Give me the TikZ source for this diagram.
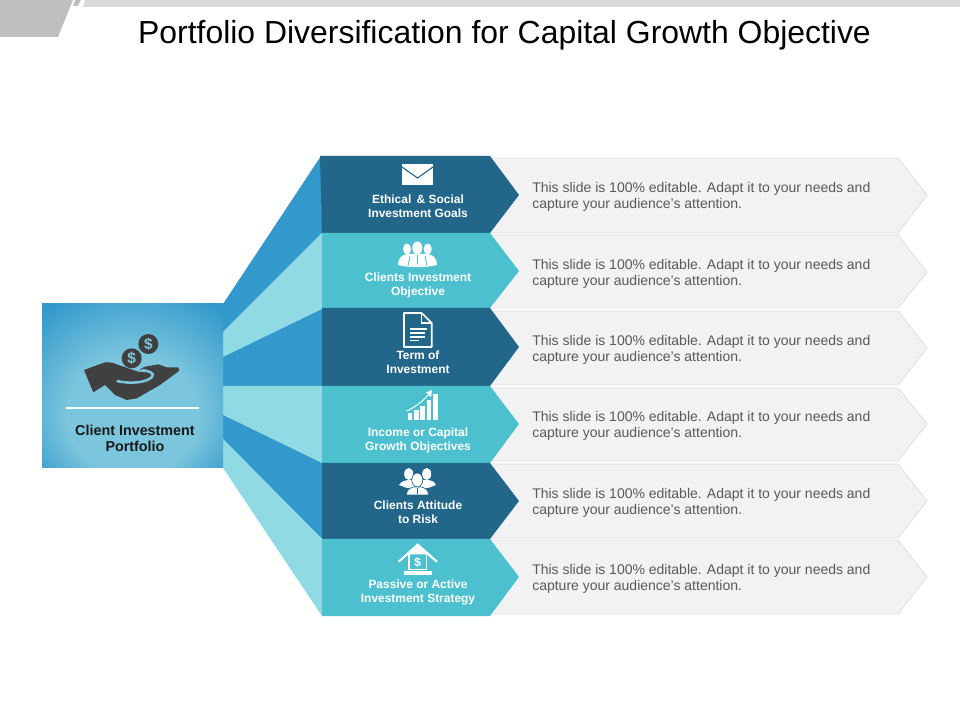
\documentclass[tikz,border=0pt]{standalone}
\usepackage{fontspec}
\setmainfont{Liberation Sans}
\definecolor{darkband}{HTML}{22678A}
\definecolor{tealband}{HTML}{4DC0D0}
\definecolor{fanblue}{HTML}{3399CC}
\definecolor{fanlight}{HTML}{8FDAE3}
\definecolor{panelgrey}{HTML}{F2F2F2}
\definecolor{panelline}{HTML}{DFDFDF}
\definecolor{handgrey}{HTML}{404040}
\definecolor{blockmid}{HTML}{7CC6DD}
\pgfdeclareradialshading{blockglow}{\pgfpoint{0bp}{-14bp}}{%
  color(0bp)=(blockmid);color(18bp)=(blockmid);color(36bp)=(fanblue);color(50bp)=(fanblue)}

\begin{document}
\begin{tikzpicture}[x=0.025cm, y=-0.025cm,
    panel/.style={fill=panelgrey, draw=panelline, line width=0.6pt},
    label/.style={font=\fontsize{8.5}{10}\selectfont\bfseries, text=white, align=center, inner sep=0pt},
    desc/.style={font=\fontsize{9.95}{11.4}\selectfont, text=black!65, align=left, anchor=west, inner sep=0pt},
    coin/.style={font=\fontsize{11}{12}\selectfont\bfseries, text=blockmid, inner sep=0pt}]
    \useasboundingbox (0, 0) rectangle (960, 720);

    % draw top strip
    \fill[black!25] (0, 0) -- (73, 0) -- (58, 37) -- (0, 37) -- cycle;
    \fill[black!25] (75, 0) -- (81, 0) -- (78, 6) -- (73, 6) -- cycle;
    \fill[black!15] (85, 0) -- (960, 0) -- (960, 7) -- (83, 7) -- cycle;
    \node[font=\fontsize{22.7}{26}\selectfont, inner sep=0pt] (title) at (504.5, 35) {Portfolio Diversification for Capital Growth Objective};

    % draw text panels
    \filldraw[panel] (490, 158) -- (898, 158) -- (927, 195) -- (898, 233) -- (490, 233) -- cycle;
    \filldraw[panel] (490, 235) -- (898, 235) -- (927, 272) -- (898, 308) -- (490, 308) -- cycle;
    \filldraw[panel] (490, 311) -- (898, 311) -- (927, 348) -- (898, 385) -- (490, 385) -- cycle;
    \filldraw[panel] (490, 388) -- (898, 388) -- (927, 424) -- (898, 461) -- (490, 461) -- cycle;
    \filldraw[panel] (490, 464) -- (898, 464) -- (927, 501) -- (898, 538) -- (490, 538) -- cycle;
    \filldraw[panel] (490, 540) -- (898, 540) -- (927, 577) -- (898, 614) -- (490, 614) -- cycle;

    % draw fan
    \fill[fanblue] (223, 304) -- (321, 156) -- (322, 233) -- (223, 332) -- cycle;
    \fill[fanlight] (223, 332) -- (322, 233) -- (322, 309) -- (223, 357) -- cycle;
    \fill[fanblue] (223, 357) -- (322, 309) -- (322, 386) -- (223, 386) -- cycle;
    \fill[fanlight] (223, 386) -- (322, 386) -- (322, 463) -- (223, 415) -- cycle;
    \fill[fanblue] (223, 415) -- (322, 463) -- (322, 539) -- (223, 439) -- cycle;
    \fill[fanlight] (223, 439) -- (322, 539) -- (322, 616) -- (223, 468) -- cycle;

    % draw chevrons
    \fill[darkband] (320, 156) -- (490, 156) -- (519, 195) -- (490, 233) -- (322, 233) -- cycle;
    \fill[tealband] (322, 233) -- (490, 233) -- (519, 271) -- (490, 308) -- (322, 308) -- cycle;
    \fill[darkband] (322, 308) -- (490, 308) -- (519, 347) -- (490, 386) -- (322, 386) -- cycle;
    \fill[tealband] (322, 386) -- (490, 386) -- (519, 424) -- (490, 463) -- (322, 463) -- cycle;
    \fill[darkband] (322, 463) -- (490, 463) -- (519, 501) -- (490, 539) -- (322, 539) -- cycle;
    \fill[tealband] (322, 539) -- (490, 539) -- (519, 577) -- (490, 616) -- (322, 616) -- cycle;

    % draw client block
    \shade[shading=blockglow] (42, 304) rectangle (223, 468);
    \draw[white, line width=1.1pt] (66, 408) -- (199, 408);
    \node[font=\fontsize{10.2}{11.3}\selectfont\bfseries, text=black!90, align=center, inner sep=0pt] (client) at (135, 438) {Client Investment\\Portfolio};

    % draw hand and coins
    \fill[handgrey] (84, 370) -- (105, 362.3) .. controls (112, 362) and (116, 364) .. (118.3, 365)
        -- (138.3, 371.7) -- (147, 372.5) -- (140, 369.3) -- (145, 366.7) -- (158.3, 364.3) -- (166.7, 367.3)
        -- (178.3, 367.3) -- (179.3, 370.7) -- (160, 385) -- (136.7, 398.3) -- (126.7, 400) -- (115, 395)
        -- (105, 385) -- (93.3, 392.3) -- cycle;
    \draw[blockmid, line width=1.8pt] (116.7, 381) .. controls (130, 384) and (146, 383) .. (152, 377)
        .. controls (155, 373) and (150, 371.5) .. (142, 370);
    \fill[handgrey] (131.7, 358.3) circle (10);
    \fill[handgrey] (148.3, 344) circle (10);
    \node[coin] (coinlow) at (131.7, 358.3) {\$};
    \node[coin] (coinhigh) at (148.3, 344) {\$};

    % draw envelope
    \fill[white] (402, 164) rectangle (433, 185);
    \draw[darkband, line width=0.8pt] (402, 167) -- (417.5, 178) -- (433, 167);

    % draw team icon
    \fill[white] (407, 249) ellipse (4 and 5.5);
    \fill[white] (427.7, 249) ellipse (4 and 5.5);
    \fill[white] (417.3, 248) ellipse (5 and 6.5);
    \fill[white] (398, 265) .. controls (398, 258) and (402, 255) .. (407, 254) -- (428, 254)
        .. controls (433, 255) and (437, 258) .. (437, 265) .. controls (425, 268) and (410, 268) .. (398, 265) -- cycle;
    \draw[tealband, line width=0.6pt] (410, 256) -- (408, 266);
    \draw[tealband, line width=0.6pt] (425, 256) -- (427, 266);
    \draw[tealband, line width=0.8pt] (417.5, 255) -- (417.5, 264);

    % draw document icon
    \draw[white, line width=1.2pt, line join=round] (404, 313) -- (421.7, 313) -- (431.7, 323) -- (431.7, 347) -- (404, 347) -- cycle;
    \draw[white, line width=0.8pt] (421.7, 313) -- (421.7, 323) -- (431.7, 323);
    \draw[white, line width=1.1pt] (410, 329) -- (427, 329);
    \draw[white, line width=1.1pt] (410, 333) -- (425, 333);
    \draw[white, line width=1.1pt] (410, 337) -- (425, 337);
    \draw[white, line width=1.1pt] (410, 340.5) -- (419, 340.5);

    % draw growth chart
    \fill[white] (407.7, 413.3) rectangle (412.4, 420.5);
    \fill[white] (414, 410) rectangle (418.7, 420.5);
    \fill[white] (420.3, 406) rectangle (425, 420.5);
    \fill[white] (426.6, 400) rectangle (431.3, 420.5);
    \fill[white] (433, 394) rectangle (437.7, 420.5);
    \draw[white, line width=0.7pt] (406.5, 411) .. controls (416, 407) and (424, 400) .. (429, 394);
    \fill[white] (432, 390) -- (431, 397) -- (426, 392.5) -- cycle;

    % draw attitude icon
    \fill[white] (408.7, 474) ellipse (4.5 and 6);
    \fill[white] (426.7, 474) ellipse (4.5 and 6);
    \fill[white] (399, 485) .. controls (402, 481) and (405, 480) .. (408, 480) -- (428, 480)
        .. controls (431, 480) and (434, 481) .. (436, 485) -- (428, 488) -- (407, 488) -- cycle;
    \fill[white, draw=darkband, line width=0.5pt] (417.3, 480) ellipse (5.5 and 7);
    \fill[white, draw=darkband, line width=0.4pt] (406.5, 495) .. controls (406.5, 490) and (410, 487.5) .. (414, 487) -- (421, 487)
        .. controls (425, 487.5) and (428.5, 490) .. (428.5, 495) -- cycle;
    \draw[darkband, line width=0.7pt] (417.5, 488) -- (417.5, 494);

    % draw bank icon
    \fill[white] (417.7, 543.3) -- (437.7, 561) -- (436.3, 562.5) -- (427, 554.5) -- (408.4, 554.5) -- (399.2, 562.5) -- (398, 561) -- cycle;
    \draw[white, line width=0.9pt] (409, 554) -- (409, 569.5) -- (426.5, 569.5) -- (426.5, 554);
    \fill[white] (404.3, 571) rectangle (431.7, 575);
    \node[font=\fontsize{8.5}{10}\selectfont\bfseries, text=white, inner sep=0pt] (bankdollar) at (417.7, 562.5) {\$};

    % draw chevron labels
    \node[label] (ethical) at (418, 206) {Ethical \,\& Social\\Investment Goals};
    \node[label] (objective) at (418, 285) {Clients Investment\\Objective};
    \node[label] (term) at (418, 362) {Term of\\Investment};
    \node[label] (income) at (418, 440) {Income or Capital\\Growth Objectives};
    \node[label] (attitude) at (418, 512) {Clients Attitude\\to Risk};
    \node[label] (passive) at (418, 592) {Passive or Active\\Investment Strategy};

    % draw slide texts
    \node[desc] (textone) at (532, 197) {This slide is 100\% editable. Adapt it to your needs and\\capture your audience's attention.};
    \node[desc] (texttwo) at (532, 274) {This slide is 100\% editable. Adapt it to your needs and\\capture your audience's attention.};
    \node[desc] (textthree) at (532, 350) {This slide is 100\% editable. Adapt it to your needs and\\capture your audience's attention.};
    \node[desc] (textfour) at (532, 426) {This slide is 100\% editable. Adapt it to your needs and\\capture your audience's attention.};
    \node[desc] (textfive) at (532, 503) {This slide is 100\% editable. Adapt it to your needs and\\capture your audience's attention.};
    \node[desc] (textsix) at (532, 579) {This slide is 100\% editable. Adapt it to your needs and\\capture your audience's attention.};
\end{tikzpicture}
\end{document}
